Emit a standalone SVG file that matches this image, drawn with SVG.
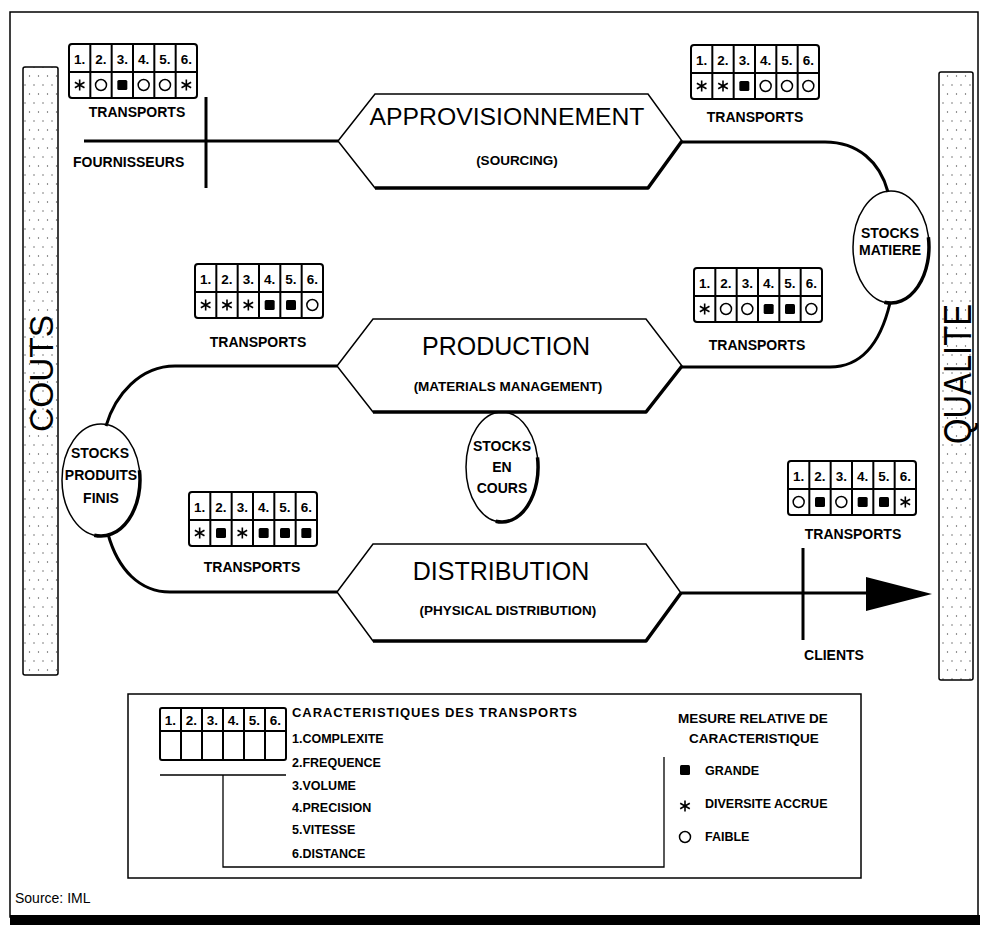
<svg xmlns="http://www.w3.org/2000/svg" xmlns:xlink="http://www.w3.org/1999/xlink" width="982" height="929" viewBox="0 0 982 929">
<style>
text{font-family:"Liberation Sans",Arial,Helvetica,sans-serif;fill:#000}
.b{font-weight:bold}
.lbl{font-size:14px;font-weight:bold}
.num{font-size:13.5px;font-weight:bold;text-anchor:middle}
.mid{text-anchor:middle}
.big{font-size:25px}
.sub{font-size:13.5px;font-weight:bold;text-anchor:middle}
.thin{fill:none;stroke:#000;stroke-width:1.5}
.tbl{fill:#fff;stroke:#000;stroke-width:2}
.tl{stroke:#000;stroke-width:2}
.con{fill:none;stroke:#000;stroke-width:3}
.shadow{fill:none;stroke:#000;stroke-width:3.5;stroke-linejoin:round}
.leg{font-size:12.5px;font-weight:bold}
</style>
<defs>
<pattern id="dots" width="9" height="18" patternUnits="userSpaceOnUse">
<rect width="9" height="18" fill="#fff"/>
<circle cx="2.5" cy="4" r="0.7" fill="#555"/>
<circle cx="7" cy="13" r="0.7" fill="#555"/>
</pattern>
<g id="sq"><rect x="-5" y="-5" width="10" height="10" rx="1.5" fill="#000"/></g>
<g id="ci"><circle r="5.5" fill="none" stroke="#000" stroke-width="1.5"/></g>
<g id="st"><path d="M0,-5.5V5.5M-4.8,-2.75L4.8,2.75M-4.8,2.75L4.8,-2.75" stroke="#000" stroke-width="1.6"/></g>
<g id="grid">
<rect class="tbl" x="0" y="0" width="128" height="54" rx="3"/>
<path class="tl" d="M21.33,0V54M42.67,0V54M64,0V54M85.33,0V54M106.67,0V54M0,28H128"/>
<text class="num" x="10.67" y="20">1.</text><text class="num" x="32" y="20">2.</text><text class="num" x="53.33" y="20">3.</text><text class="num" x="74.67" y="20">4.</text><text class="num" x="96" y="20">5.</text><text class="num" x="117.33" y="20">6.</text>
</g>
</defs>
<rect width="982" height="929" fill="#fff"/>
<!-- outer frame -->
<g id="frame">
<rect x="10" y="12" width="968" height="905" fill="none" stroke="#000" stroke-width="1.5"/>
<rect x="10" y="915" width="970" height="10" fill="#000"/>
<text x="15" y="903" font-size="14">Source: IML</text>
</g>
<!-- side bars -->
<g id="couts">
<rect x="23" y="67" width="35" height="608" rx="2" fill="url(#dots)" stroke="#000" stroke-width="1.5"/>
<text transform="translate(53,373.5) rotate(-90)" class="mid" font-size="34" textLength="117" lengthAdjust="spacingAndGlyphs">COUTS</text>
</g>
<g id="qualite">
<rect x="939" y="72" width="34" height="608" rx="2" fill="url(#dots)" stroke="#000" stroke-width="1.5"/>
<text transform="translate(971,374) rotate(-90)" class="mid" font-size="38" textLength="140" lengthAdjust="spacingAndGlyphs">QUALITE</text>
</g>
<!-- connectors -->
<g id="connectors">
<path class="con" d="M84,141H338"/>
<path class="con" d="M206,97V188"/>
<path class="con" d="M682,142H825C858,142 880,162 888,192"/>
<path class="con" d="M890,303C880,345 860,367 830,367H682"/>
<path class="con" d="M337,366H175C140,366 115,395 106,426"/>
<path class="con" d="M108,534C118,570 140,592 170,592H337"/>
<path class="con" d="M681,593H870"/>
<polygon points="866,577 932,594 866,611" fill="#000"/>
<path class="con" d="M803,548V640"/>
</g>
<!-- labels along the chain -->
<g id="fournisseurs"><text class="lbl" x="73" y="167">FOURNISSEURS</text></g>
<g id="clients"><text class="lbl mid" x="834" y="660">CLIENTS</text></g>
<!-- hexagons -->
<g id="approvisionnement">
<polygon class="thin" fill="#fff" points="338,141 375,94 648,94 682,141 648,188 375,188"/>
<path class="shadow" d="M682,141L648,188H375"/>
<text x="507" y="125" class="mid" font-size="23" textLength="275" lengthAdjust="spacingAndGlyphs">APPROVISIONNEMENT</text>
<text x="517" y="165" class="sub">(SOURCING)</text>
</g>
<g id="production">
<polygon class="thin" fill="#fff" points="337,366 373,319 646,319 682,366 646,412 373,412"/>
<path class="shadow" d="M682,366L646,412H373"/>
<text x="506" y="355" class="mid big">PRODUCTION</text>
<text x="508" y="391" class="sub">(MATERIALS MANAGEMENT)</text>
</g>
<g id="distribution">
<polygon class="thin" fill="#fff" points="337,592 373,544 646,544 681,593 646,641 373,641"/>
<path class="shadow" d="M681,593L646,641H373"/>
<text x="501" y="580" class="mid big">DISTRIBUTION</text>
<text x="508" y="615" class="sub">(PHYSICAL DISTRIBUTION)</text>
</g>
<!-- stock ellipses -->
<g id="stocks-matiere">
<ellipse class="thin" fill="#fff" cx="891" cy="247" rx="38" ry="56"/>
<path class="shadow" d="M928.4,237.3A38,56 0 0 1 884.4,302.2"/>
<text class="lbl mid" x="890" y="238">STOCKS</text>
<text class="lbl mid" x="890" y="255">MATIERE</text>
</g>
<g id="stocks-produits-finis">
<ellipse class="thin" fill="#fff" cx="101" cy="480" rx="39" ry="56"/>
<path class="shadow" d="M139.4,470.3A39,56 0 0 1 94.2,535.2"/>
<text class="lbl mid" x="100" y="458">STOCKS</text>
<text class="lbl mid" x="101" y="480">PRODUITS</text>
<text class="lbl mid" x="101" y="503">FINIS</text>
</g>
<g id="stocks-en-cours">
<ellipse class="thin" fill="#fff" cx="502" cy="467" rx="36" ry="55"/>
<path class="shadow" d="M537.5,457.4A36,55 0 0 1 495.7,521.2"/>
<text class="lbl mid" x="502" y="451">STOCKS</text>
<text class="lbl mid" x="502" y="472">EN</text>
<text class="lbl mid" x="502" y="493">COURS</text>
</g>
<!-- transport tables -->
<g id="transports-1">
<g transform="translate(69,44)"><use href="#grid"/><use href="#st" x="10.67" y="41"/><use href="#ci" x="32" y="41"/><use href="#sq" x="53.33" y="41"/><use href="#ci" x="74.67" y="41"/><use href="#ci" x="96" y="41"/><use href="#st" x="117.33" y="41"/></g>
<text class="lbl mid" x="137" y="117">TRANSPORTS</text>
</g>
<g id="transports-2">
<g transform="translate(691,45)"><use href="#grid"/><use href="#st" x="10.67" y="41"/><use href="#st" x="32" y="41"/><use href="#sq" x="53.33" y="41"/><use href="#ci" x="74.67" y="41"/><use href="#ci" x="96" y="41"/><use href="#ci" x="117.33" y="41"/></g>
<text class="lbl mid" x="755" y="122">TRANSPORTS</text>
</g>
<g id="transports-3">
<g transform="translate(694,268)"><use href="#grid"/><use href="#st" x="10.67" y="41"/><use href="#ci" x="32" y="41"/><use href="#ci" x="53.33" y="41"/><use href="#sq" x="74.67" y="41"/><use href="#sq" x="96" y="41"/><use href="#ci" x="117.33" y="41"/></g>
<text class="lbl mid" x="757" y="350">TRANSPORTS</text>
</g>
<g id="transports-4">
<g transform="translate(195,264)"><use href="#grid"/><use href="#st" x="10.67" y="41"/><use href="#st" x="32" y="41"/><use href="#st" x="53.33" y="41"/><use href="#sq" x="74.67" y="41"/><use href="#sq" x="96" y="41"/><use href="#ci" x="117.33" y="41"/></g>
<text class="lbl mid" x="258" y="347">TRANSPORTS</text>
</g>
<g id="transports-5">
<g transform="translate(189,492)"><use href="#grid"/><use href="#st" x="10.67" y="41"/><use href="#sq" x="32" y="41"/><use href="#st" x="53.33" y="41"/><use href="#sq" x="74.67" y="41"/><use href="#sq" x="96" y="41"/><use href="#sq" x="117.33" y="41"/></g>
<text class="lbl mid" x="252" y="572">TRANSPORTS</text>
</g>
<g id="transports-6">
<g transform="translate(788,461)"><use href="#grid"/><use href="#ci" x="10.67" y="41"/><use href="#sq" x="32" y="41"/><use href="#ci" x="53.33" y="41"/><use href="#sq" x="74.67" y="41"/><use href="#sq" x="96" y="41"/><use href="#st" x="117.33" y="41"/></g>
<text class="lbl mid" x="853" y="539">TRANSPORTS</text>
</g>
<!-- legend -->
<g id="legend">
<rect x="128" y="694" width="733" height="184" fill="#fff" stroke="#000" stroke-width="1.5"/>
<g transform="translate(160,708)">
<rect class="tbl" x="0" y="0" width="126" height="52" rx="2"/>
<path class="tl" d="M21,0V52M42,0V52M63,0V52M84,0V52M105,0V52M0,23H126"/>
<text class="num" x="10.5" y="17">1.</text><text class="num" x="31.5" y="17">2.</text><text class="num" x="52.5" y="17">3.</text><text class="num" x="73.5" y="17">4.</text><text class="num" x="94.5" y="17">5.</text><text class="num" x="115.5" y="17">6.</text>
</g>
<path d="M160,775H286M223,775V867H664V757" fill="none" stroke="#000" stroke-width="1.3"/>
<text class="b" x="292" y="717" font-size="13" textLength="285" lengthAdjust="spacing">CARACTERISTIQUES DES TRANSPORTS</text>
<text class="b" x="292" y="743" font-size="12.5">1.COMPLEXITE</text>
<text class="b" x="292" y="767" font-size="12.5">2.FREQUENCE</text>
<text class="b" x="292" y="790" font-size="12.5">3.VOLUME</text>
<text class="b" x="292" y="812" font-size="12.5">4.PRECISION</text>
<text class="b" x="292" y="834" font-size="12.5">5.VITESSE</text>
<text class="b" x="292" y="858" font-size="12.5">6.DISTANCE</text>
<text class="b mid" x="753" y="723" font-size="13.5">MESURE RELATIVE DE</text>
<text class="b mid" x="754" y="743" font-size="13.5">CARACTERISTIQUE</text>
<use href="#sq" x="685" y="770"/>
<text class="leg" x="705" y="775">GRANDE</text>
<use href="#st" x="685" y="806"/>
<text class="leg" x="705" y="808">DIVERSITE ACCRUE</text>
<use href="#ci" x="685" y="837"/>
<text class="leg" x="705" y="841">FAIBLE</text>
</g>
</svg>
